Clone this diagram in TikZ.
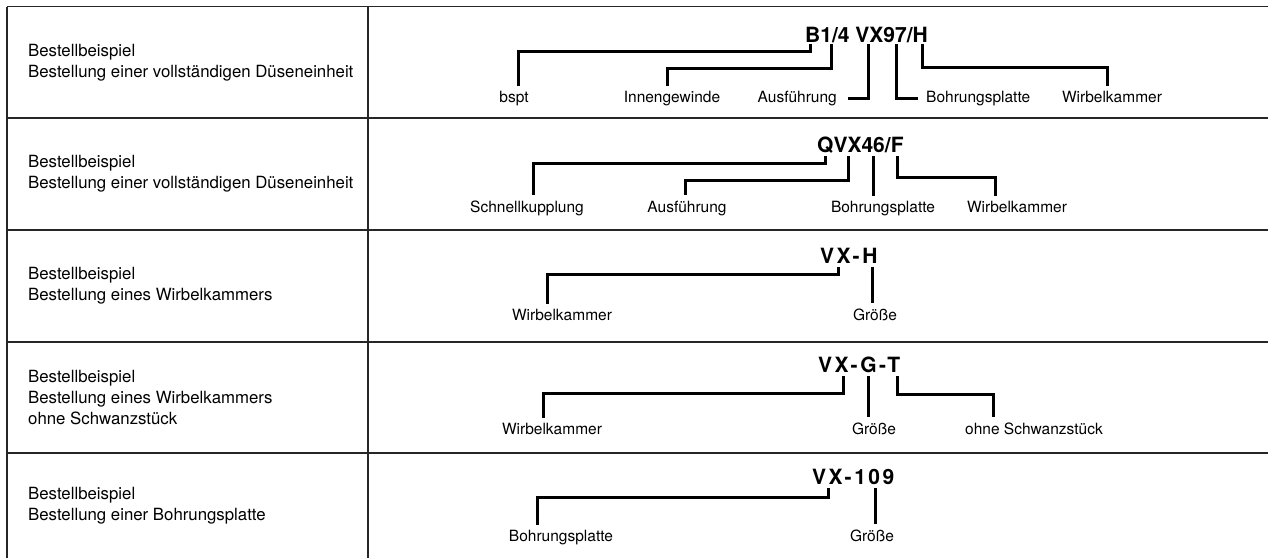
\documentclass[tikz,border=0pt]{standalone}
\usepackage{fontspec}
\setmainfont{TeX Gyre Heros}
\usepackage{tikz}

\newcommand\descfont{\fontsize{16.8}{20.7}\selectfont}
\newcommand\partfont{\fontsize{15.5}{18}\selectfont}
\newcommand\codefont{\fontsize{21}{24}\selectfont\bfseries}
\newcommand\spacedcode{\addfontfeature{LetterSpace=12}}

\begin{document}
\begin{tikzpicture}[x=1pt,y=-1pt,
  rule/.style={line width=1.4pt,black!85},
  conn/.style={line width=3pt},
  desc/.style={anchor=west,align=left,font=\descfont,inner sep=0pt},
  code/.style={anchor=base west,font=\codefont,inner sep=0pt},
  part/.style={anchor=base,font=\partfont,inner sep=5pt}]
  \useasboundingbox (0,0) rectangle (1268,558);
  % table
  \foreach \y in {6.5,118,230,342,453} \draw[rule] (7,\y) -- (1268,\y);
  \draw[rule] (7,6.5) -- (7,558);
  \draw[rule] (368,6.5) -- (368,558);
  % left column
  \node[desc] (d1) at (28,62.5) {Bestellbeispiel\\Bestellung einer vollständigen Düseneinheit};
  \node[desc] (d2) at (28,174) {Bestellbeispiel\\Bestellung einer vollständigen Düseneinheit};
  \node[desc] (d3) at (28,286) {Bestellbeispiel\\Bestellung eines Wirbelkammers};
  \node[desc] (d4) at (28,397.5) {Bestellbeispiel\\Bestellung eines Wirbelkammers\\ohne Schwanzstück};
  \node[desc] (d5) at (28,505.5) {Bestellbeispiel\\Bestellung einer Bohrungsplatte};

  % row 1
  \node[code] (c1) at (805,42) {B1/4 VX97/H};
  \coordinate (aB) at (810,44);
  \coordinate (aSl) at (831,44);
  \coordinate (aX) at (868,44);
  \coordinate (a7) at (896,44);
  \coordinate (aH) at (922,44);
  \node[part] (bspt) at (514,102) {bspt};
  \node[part] (inn) at (672,102) {Innengewinde};
  \node[part,anchor=base east] (aus) at (842,102) {Ausführung};
  \node[part,anchor=base west] (boh) at (921,102) {Bohrungsplatte};
  \node[part] (wk) at (1112,102) {Wirbelkammer};
  \draw[conn] (aB) -- ++(0,7) -| ([xshift=4pt]bspt.north);
  \draw[conn] (aSl) -- ++(0,24) -| ([xshift=-5pt]inn.north);
  \draw[conn] (aX) |- ([xshift=6pt]aus.east);
  \draw[conn] (a7) |- ([xshift=-3pt]boh.west);
  \draw[conn] (aH) -- ++(0,23) -| ([xshift=-5pt]wk.north);

  % row 2
  \node[code] (c2) at (817,152) {QVX46/F};
  \coordinate (bQ) at (825,156);
  \coordinate (bX) at (848,156);
  \coordinate (b6) at (873,156);
  \coordinate (bF) at (897,156);
  \node[part] (sk) at (527,212) {Schnellkupplung};
  \node[part] (au2) at (687,212) {Ausführung};
  \node[part] (bp2) at (883,212) {Bohrungsplatte};
  \node[part] (wk2) at (1017,212) {Wirbelkammer};
  \draw[conn] (bQ) -- ++(0,7) -| ([xshift=6pt]sk.north);
  \draw[conn] (bX) -- ++(0,24) -| ([xshift=-2pt]au2.north);
  \draw[conn] (b6) -- (b6 |- bp2.north);
  \draw[conn] (bF) -- ++(0,21) -| ([xshift=-22pt]wk2.north);

  % row 3
  \node[code] (c3) at (820,263) {\spacedcode VX-H};
  \coordinate (cX) at (838,267);
  \coordinate (cH) at (872,267);
  \node[part] (wk3) at (562,320) {Wirbelkammer};
  \node[part] (gr3) at (875,320) {Größe};
  \draw[conn] (cX) -- ++(0,7) -| ([xshift=-15pt]wk3.north);
  \draw[conn] (cH) -- (cH |- gr3.north);

  % row 4
  \node[code] (c4) at (818,372) {\spacedcode VX-G-T};
  \coordinate (dX) at (843,376);
  \coordinate (dG) at (868,376);
  \coordinate (dT) at (897,376);
  \node[part] (wk4) at (552,434) {Wirbelkammer};
  \node[part] (gr4) at (874,434) {Größe};
  \node[part] (oh) at (1034,434) {ohne Schwanzstück};
  \draw[conn] (dX) -- ++(0,17) -| ([xshift=-9pt]wk4.north);
  \draw[conn] (dG) -- (dG |- gr4.north);
  \draw[conn] (dT) -- ++(0,18) -| ([xshift=-41pt]oh.north);

  % row 5
  \node[code] (c5) at (812,484) {\spacedcode VX-109};
  \coordinate (eX) at (828,488);
  \coordinate (e9) at (875,488);
  \node[part] (bp5) at (561,541) {Bohrungsplatte};
  \node[part] (gr5) at (872,541) {Größe};
  \draw[conn] (eX) -- ++(0,9) -| ([xshift=-24pt]bp5.north);
  \draw[conn] (e9) -- (e9 |- gr5.north);
\end{tikzpicture}
\end{document}
